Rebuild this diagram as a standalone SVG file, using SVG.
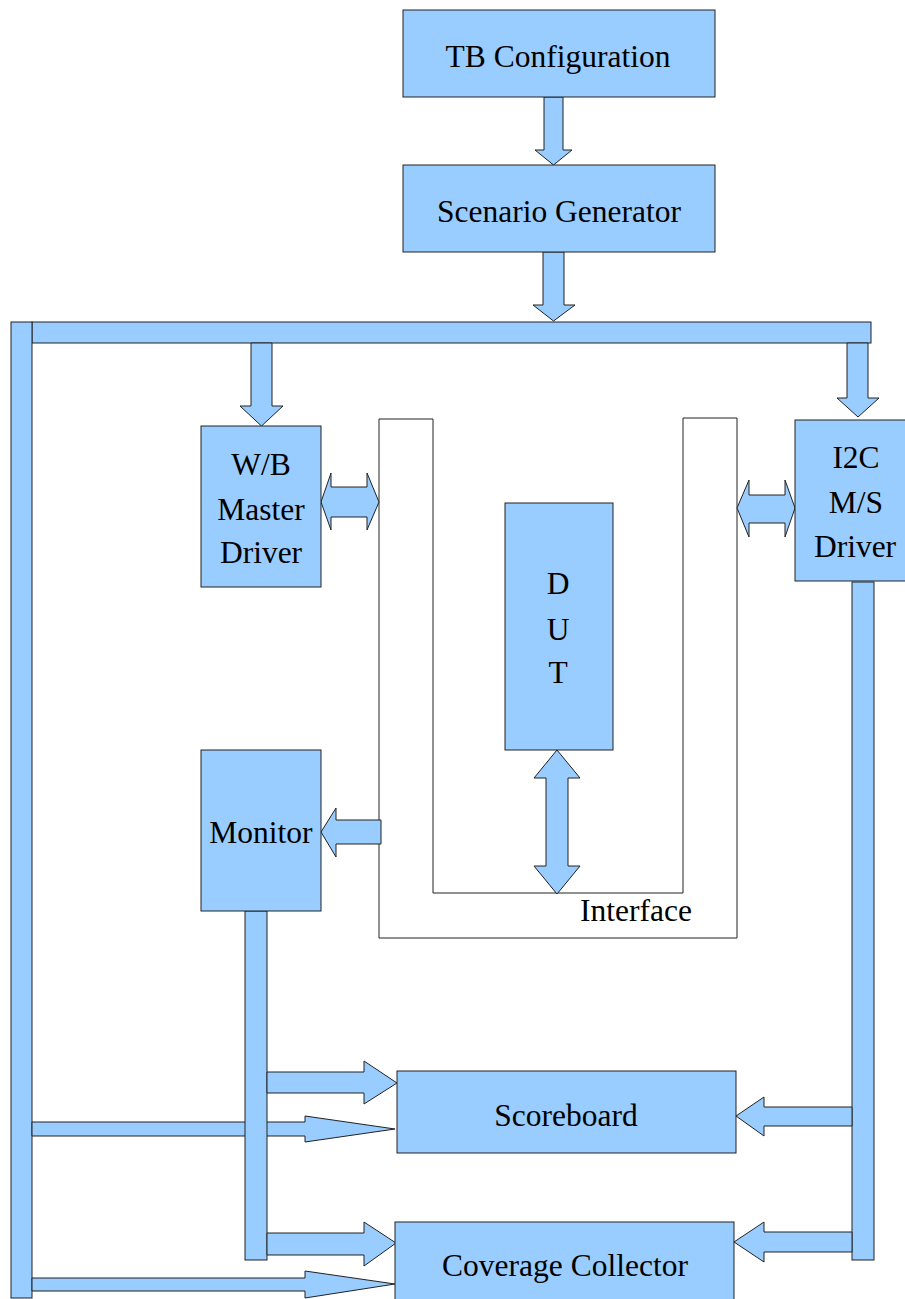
<svg xmlns="http://www.w3.org/2000/svg" width="905" height="1299" viewBox="0 0 905 1299">
<style>
.b{fill:#99ccff;stroke:#222;stroke-width:1}
.w{fill:#ffffff;stroke:#222;stroke-width:1}
.t{font-family:'Liberation Serif','DejaVu Serif',serif;font-size:31.5px;fill:#000;text-anchor:middle}
</style>
<rect width="905" height="1299" fill="#ffffff"/>
<g id="interface">
<path class="w" d="M379,419 L433,419 L433,893 L683,893 L683,418 L737,418 L737,938 L379,938 Z"/>
<text class="t" x="580" y="921" text-anchor="start" font-family="Liberation Serif, DejaVu Serif, serif" style="text-anchor:start">Interface</text>
</g>
<g id="connectors">
<rect class="b" x="32" y="322" width="839" height="21"/>
<rect class="b" x="11" y="322" width="21" height="976"/>
<path class="b" d="M544,97 L563,97 L563,150 L572,150 L553.5,165 L535,150 L544,150 Z"/>
<path class="b" d="M543,252 L564,252 L564,305 L575,305 L553.5,321 L533,305 L543,305 Z"/>
<path class="b" d="M251,343 L272,343 L272,406 L283,406 L261.5,426 L240,406 L251,406 Z"/>
<path class="b" d="M847,343 L868,343 L868,398 L879,398 L858,417 L837,398 L847,398 Z"/>
<path class="b" d="M321,502 L331,473 L331,487 L367,487 L367,473 L379,502 L367,530 L367,517 L331,517 L331,530 Z"/>
<path class="b" d="M737,508 L749,480 L749,495 L785,495 L785,480 L795,508 L785,537 L785,523 L749,523 L749,537 Z"/>
<path class="b" d="M557,750 L580,778 L568,778 L568,866 L580,866 L557,894 L534,866 L546,866 L546,778 L534,778 Z"/>
<path class="b" d="M381,820 L336,820 L336,808 L321,832 L336,857 L336,844 L381,844 Z"/>
<path class="b" d="M32,1122 L305,1122 L305,1116 L395,1129 L305,1142 L305,1136 L32,1136 Z"/>
<path class="b" d="M32,1278 L305,1278 L305,1271 L395,1284 L305,1298 L305,1291 L32,1291 Z"/>
<rect class="b" x="245" y="911" width="22" height="349"/>
<rect class="b" x="852" y="582" width="22" height="678"/>
<path class="b" d="M267,1072 L364,1072 L364,1061 L397,1083 L364,1104 L364,1093 L267,1093 Z"/>
<path class="b" d="M267,1233 L364,1233 L364,1222 L396,1243 L364,1266 L364,1255 L267,1255 Z"/>
<path class="b" d="M852,1107 L764,1107 L764,1097 L736,1116 L764,1136 L764,1126 L852,1126 Z"/>
<path class="b" d="M852,1232 L764,1232 L764,1222 L734,1242 L764,1262 L764,1252 L852,1252 Z"/>
</g>
<g id="tb-config">
<rect class="b" x="403" y="10" width="312" height="87"/>
<text class="t" x="558" y="67" font-family="Liberation Serif, DejaVu Serif, serif">TB Configuration</text>
</g>
<g id="scenario-generator">
<rect class="b" x="403" y="165" width="312" height="87"/>
<text class="t" x="559" y="222" font-family="Liberation Serif, DejaVu Serif, serif">Scenario Generator</text>
</g>
<g id="wb-master-driver">
<rect class="b" x="201" y="426" width="120" height="161"/>
<text class="t" x="261" y="475" font-family="Liberation Serif, DejaVu Serif, serif">W/B</text>
<text class="t" x="261" y="520" font-family="Liberation Serif, DejaVu Serif, serif">Master</text>
<text class="t" x="261" y="563" font-family="Liberation Serif, DejaVu Serif, serif">Driver</text>
</g>
<g id="i2c-driver">
<rect class="b" x="795" y="420" width="120" height="161"/>
<text class="t" x="856" y="468" font-family="Liberation Serif, DejaVu Serif, serif">I2C</text>
<text class="t" x="856" y="513" font-family="Liberation Serif, DejaVu Serif, serif">M/S</text>
<text class="t" x="855" y="557" font-family="Liberation Serif, DejaVu Serif, serif">Driver</text>
</g>
<g id="dut">
<rect class="b" x="505" y="503" width="108" height="247"/>
<text class="t" x="558" y="594" font-family="Liberation Serif, DejaVu Serif, serif">D</text>
<text class="t" x="558" y="640" font-family="Liberation Serif, DejaVu Serif, serif">U</text>
<text class="t" x="558" y="683" font-family="Liberation Serif, DejaVu Serif, serif">T</text>
</g>
<g id="monitor">
<rect class="b" x="201" y="750" width="120" height="161"/>
<text class="t" x="261" y="843" font-family="Liberation Serif, DejaVu Serif, serif">Monitor</text>
</g>
<g id="scoreboard">
<rect class="b" x="397" y="1071" width="339" height="82"/>
<text class="t" x="566" y="1126" font-family="Liberation Serif, DejaVu Serif, serif">Scoreboard</text>
</g>
<g id="coverage-collector">
<rect class="b" x="395" y="1222" width="339" height="90"/>
<text class="t" x="565" y="1276" font-family="Liberation Serif, DejaVu Serif, serif">Coverage Collector</text>
</g>
</svg>
